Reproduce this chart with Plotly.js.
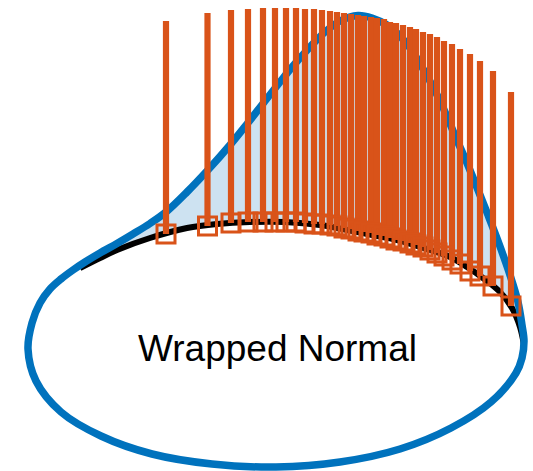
<!DOCTYPE html>
<html><head><meta charset="utf-8">
<script src="https://cdn.plot.ly/plotly-3.0.1.min.js"></script>
<style>html,body{margin:0;padding:0;background:#fff}#c{width:533px;height:471px}</style>
</head><body><div id="c"></div>
<script>
var blueX=[524,522,518,510,498,488,480,467,456,448,441,433,426,419,413,406,400,387,372,358,340,325,310,293,280,265,247,230,207,187,166,150,133,117,100,85,73,61,50,40,32,28,36,61,101,152,212,276,340,400,451,491,516,522,524];
var blueY=[341,325,302,275,241,215,195,163,138,119,103,87,74,62,52,43,36,25,18,15.5,21,32,47,66,82,101,124,145,171,192,212,223.5,234,243.5,253,262,270,279,289,303,323,349,381,412,436,454,464,467,462,449,428,402,373,358,341];
var blackX=[80,100,117,150,187,217,250,285,320,347,372,397,430,450,467,483,500,512,520,524];
var blackY=[268,258,250,238,228,224,222,222,225,230,235,240,250,257,267,278,292,308,327,345];
var stemX=[166,207.5,231,248,263,275,286,296,305,314,322,330,337,344,351,358,364,371,377,384,390,396,403,410,416,423,430,437,444,452,460,470,480,493,511];
var stemTop=[21,13,10,9,8,8,8,8,9,9,10,11,12,13,14,15,16,17,18,19,22,23,25,27,29,32,34,37,41,44,49,54,61,71,92];
var stemBase=[234,226,223,222,222,222,222,222,223,224,224,225,226,228,229,231,232,233,235,236,238,240,241,243,245,247,250,253,256,260,264,271,276,286,306];
var label='Wrapped Normal';

var nTop=blueX.indexOf(85)+1;
var stemPathX=[],stemPathY=[];
stemX.forEach(function(x,i){stemPathX.push(x,x,null);stemPathY.push(stemTop[i],stemBase[i],null);});
var data=[
 {type:'scatter',mode:'lines',x:blackX.concat(blueX.slice(0,nTop)),y:blackY.concat(blueY.slice(0,nTop)),fill:'toself',fillcolor:'#cde2f1',line:{width:0},hoverinfo:'skip'},
 {type:'scatter',mode:'lines',x:blackX,y:blackY,line:{color:'#000',width:6,shape:'spline',smoothing:1},hoverinfo:'skip'},
 {type:'scatter',mode:'lines',x:blueX,y:blueY,line:{color:'#0072BD',width:7.5,shape:'spline',smoothing:1},hoverinfo:'skip'},
 {type:'scatter',mode:'lines',x:stemPathX,y:stemPathY,line:{color:'#D95319',width:6.2},hoverinfo:'skip'},
 {type:'scatter',mode:'markers',x:stemX,y:stemBase,marker:{symbol:'square-open',size:18,color:'#D95319',line:{width:3,color:'#D95319'}},hoverinfo:'skip'}
];
var layout={width:533,height:471,margin:{l:0,r:0,t:0,b:0},paper_bgcolor:'#fff',plot_bgcolor:'#fff',showlegend:false,
 xaxis:{range:[0,533],visible:false,fixedrange:true},
 yaxis:{range:[471,0],visible:false,fixedrange:true},
 annotations:[{x:277,y:348,xref:'x',yref:'y',text:label,showarrow:false,font:{family:'Liberation Sans, Arial, sans-serif',size:37,color:'#000'}}]};
Plotly.newPlot('c',data,layout,{displayModeBar:false,staticPlot:true});
</script></body></html>
